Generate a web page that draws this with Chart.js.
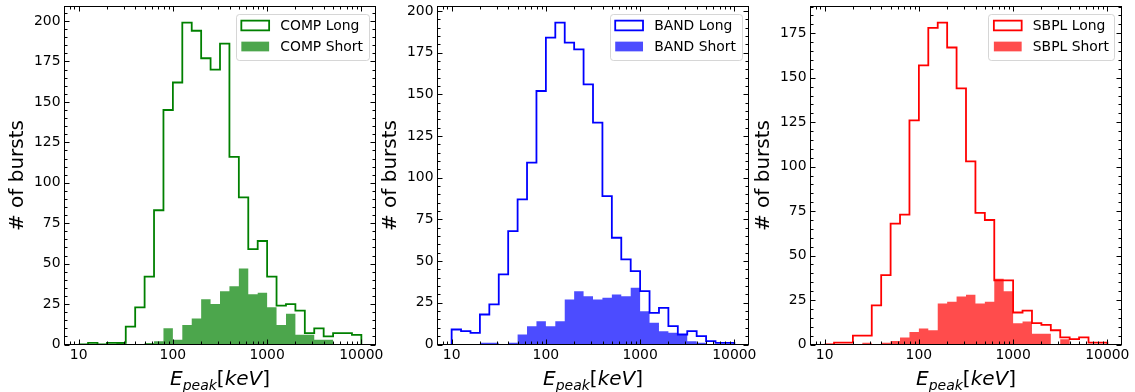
<!DOCTYPE html>
<html lang="en">
<head>
  <meta charset="UTF-8" />
  <title>Epeak distributions</title>
  <script src="https://cdn.jsdelivr.net/npm/chart.js"></script>
  <style>
    body {
      margin: 0;
      background: #fff;
      width: 1135px;
      height: 392px;
      overflow: hidden;
      position: relative;
      font-family: "DejaVu Sans", sans-serif;
    }
    canvas { position: absolute; top: 0; }
    .xlab {
      position: absolute;
      top: 366px;
      font-size: 20px;
      line-height: 24px;
      white-space: nowrap;
      transform: translateX(-50%);
      color: #000;
    }
    .xlab sub {
      font-size: 14px;
      position: relative;
      top: 5px;
      vertical-align: baseline;
    }
  </style>
</head>
<body>
  <canvas id="c1" width="390" height="392" style="left:0px"></canvas>
  <canvas id="c2" width="390" height="392" style="left:373px"></canvas>
  <canvas id="c3" width="390" height="392" style="left:746px"></canvas>
  <div class="xlab" style="left:220px"><i>E</i><sub><i>peak</i></sub>[<i>keV</i>]</div>
  <div class="xlab" style="left:593px"><i>E</i><sub><i>peak</i></sub>[<i>keV</i>]</div>
  <div class="xlab" style="left:966px"><i>E</i><sub><i>peak</i></sub>[<i>keV</i>]</div>

  <script>
    // log-spaced bins, 10 per decade, 10 keV .. 10000 keV
    const binEdges = [
      10, 12.589, 15.849, 19.953, 25.119, 31.623, 39.811, 50.119, 63.096, 79.433,
      100, 125.89, 158.49, 199.53, 251.19, 316.23, 398.11, 501.19, 630.96, 794.33,
      1000, 1258.9, 1584.9, 1995.3, 2511.9, 3162.3, 3981.1, 5011.9, 6309.6, 7943.3,
      10000
    ];

    const compLong  = [0, 1, 0, 1, 1, 11, 23, 42, 83, 145, 162, 199, 194, 177, 170, 186, 116, 91, 59, 64, 42, 24, 25, 21, 7, 10, 5, 7, 7, 6];
    const compShort = [0, 0, 0, 0, 1, 0, 0, 1, 2, 10, 3, 12, 16, 28, 25, 33, 36, 47, 31, 32, 23, 12, 19, 6, 6, 3, 3, 0, 0, 0];

    const bandLong  = [9, 8, 7, 18, 24, 42, 68, 87, 109, 152, 184, 193, 181, 177, 156, 133, 89, 64, 51, 44, 32, 19, 22, 11, 6, 8, 5, 2, 1, 1];
    const bandShort = [0, 0, 0, 1, 1, 0, 1, 6, 11, 14, 11, 14, 27, 32, 29, 27, 28, 30, 29, 34, 20, 13, 8, 7, 6, 2, 1, 0, 0, 0];

    const sbplLong  = [0, 1, 1, 5, 5, 22, 39, 68, 73, 126, 157, 178, 181, 167, 144, 103, 74, 70, 36, 36, 18, 19, 12, 11, 8, 4, 3, 4, 1, 1];
    const sbplShort = [0, 0, 0, 0, 1, 0, 1, 2, 4, 7, 9, 8, 23, 24, 27, 28, 23, 24, 37, 30, 12, 13, 6, 6, 0, 3, 0, 0, 0, 0];

    const xTicks = [10, 100, 1000, 10000];
    const yTicks1 = [0, 25, 50, 75, 100, 125, 150, 175, 200];
    const yTicks2 = [0, 25, 50, 75, 100, 125, 150, 175, 200];
    const yTicks3 = [0, 25, 50, 75, 100, 125, 150, 175];

    const legend1 = ["COMP Long", "COMP Short"];
    const legend2 = ["BAND Long", "BAND Short"];
    const legend3 = ["SBPL Long", "SBPL Short"];

    const X_MIN = 7.0795;   // 10^0.85
    const X_MAX = 14125.4;  // 10^4.15
    const FS = 13.9;

    Chart.defaults.font.family = "'DejaVu Sans', sans-serif";
    Chart.defaults.color = "#000";

    function stepPoints(counts) {
      const pts = [{ x: binEdges[0], y: 0 }];
      counts.forEach((c, i) => pts.push({ x: binEdges[i], y: c }));
      pts.push({ x: binEdges[counts.length], y: 0 });
      return pts;
    }

    // keep the plot box exactly where we put it
    function noPad(s) {
      s.paddingTop = 0; s.paddingBottom = 0;
      s.paddingLeft = 0; s.paddingRight = 0;
    }

    // frame + inward ticks on all four sides
    const framePlugin = {
      id: "frame",
      afterDatasetsDraw(chart) {
        const { ctx, chartArea: a, scales } = chart;
        const x = scales.x, y = scales.y;
        ctx.save();
        ctx.strokeStyle = "#000";
        ctx.lineWidth = 1;
        ctx.beginPath();
        const tick = (px, len, vertical) => {
          if (vertical) {
            ctx.moveTo(px, a.bottom); ctx.lineTo(px, a.bottom - len);
            ctx.moveTo(px, a.top); ctx.lineTo(px, a.top + len);
          } else {
            ctx.moveTo(a.left, px); ctx.lineTo(a.left + len, px);
            ctx.moveTo(a.right, px); ctx.lineTo(a.right - len, px);
          }
        };
        for (let d = 1; d <= 10000; d *= 10) {
          for (let m = 1; m <= 9; m++) {
            const v = d * m;
            if (v < X_MIN || v > X_MAX) continue;
            const px = Math.round(x.getPixelForValue(v)) + 0.5;
            tick(px, m === 1 ? 5 : 3, true);
          }
        }
        for (let v = 0; v <= y.max; v += 5) {
          const py = Math.round(y.getPixelForValue(v)) + 0.5;
          tick(py, v % 25 === 0 ? 5 : 3, false);
        }
        ctx.stroke();
        ctx.strokeRect(a.left, a.top, a.right - a.left, a.bottom - a.top);
        ctx.restore();
      }
    };

    // matplotlib-like legend in the upper right corner
    const boxLegend = {
      id: "boxLegend",
      afterDraw(chart, args, opts) {
        const { ctx, chartArea: a } = chart;
        ctx.save();
        ctx.font = FS + "px 'DejaVu Sans'";
        const tw = Math.max(...opts.labels.map(t => ctx.measureText(t).width));
        const pad = 0.4 * FS, hl = 2 * FS, htp = 0.8 * FS;
        const w = pad + hl + htp + tw + pad;
        const h = 46;
        const x0 = a.right - 7 - w, y0 = a.top + 7;
        ctx.beginPath();
        ctx.roundRect(Math.round(x0) + 0.5, Math.round(y0) + 0.5, Math.round(w), h, 3);
        ctx.fillStyle = "rgba(255,255,255,0.8)";
        ctx.fill();
        ctx.strokeStyle = "rgba(204,204,204,0.8)";
        ctx.lineWidth = 1;
        ctx.stroke();

        const rows = [y0 + 12, y0 + 33];
        const hh = 0.7 * FS;
        // long: outline only
        ctx.strokeStyle = opts.line;
        ctx.lineWidth = 1.8;
        ctx.strokeRect(x0 + pad, rows[0] - hh / 2, hl, hh);
        // short: filled
        ctx.fillStyle = opts.fill;
        ctx.fillRect(x0 + pad, rows[1] - hh / 2, hl, hh);

        ctx.fillStyle = "#000";
        ctx.textBaseline = "middle";
        ctx.textAlign = "left";
        opts.labels.forEach((t, i) => ctx.fillText(t, x0 + pad + hl + htp, rows[i] + 0.5));
        ctx.restore();
      }
    };

    function makeChart(id, longCounts, shortCounts, line, fill, yMax, yTicks, labels) {
      return new Chart(document.getElementById(id), {
        type: "line",
        data: {
          datasets: [
            {
              label: labels[1],
              data: stepPoints(shortCounts),
              stepped: true,
              fill: "origin",
              backgroundColor: fill,
              borderColor: "rgba(0,0,0,0)",
              borderWidth: 1,
              pointRadius: 0,
              order: 0
            },
            {
              label: labels[0],
              data: stepPoints(longCounts),
              stepped: true,
              fill: false,
              borderColor: line,
              borderWidth: 1.8,
              pointRadius: 0,
              order: 1
            }
          ]
        },
        options: {
          responsive: false,
          animation: false,
          events: [],
          layout: { padding: { top: 6.5, right: 14.5, left: 0, bottom: 0 } },
          plugins: {
            legend: { display: false },
            tooltip: { enabled: false },
            boxLegend: { labels, line, fill }
          },
          scales: {
            x: {
              type: "logarithmic",
              min: X_MIN,
              max: X_MAX,
              grid: { display: false, drawTicks: false },
              border: { display: false },
              ticks: {
                font: { size: FS },
                color: "#000",
                padding: 3,
                maxRotation: 0,
                autoSkip: false,
                callback: v => String(v)
              },
              afterBuildTicks: s => { s.ticks = xTicks.map(v => ({ value: v })); },
              afterFit: s => { s.height = 47.5; noPad(s); }
            },
            y: {
              min: 0,
              max: yMax,
              grid: { display: false, drawTicks: false },
              border: { display: false },
              ticks: { font: { size: FS }, color: "#000", padding: 4 },
              afterBuildTicks: s => { s.ticks = yTicks.map(v => ({ value: v })); },
              afterFit: s => { s.width = 64.5; noPad(s); },
              title: {
                display: true,
                text: "# of bursts",
                font: { size: 20 },
                color: "#000",
                padding: { top: 5.5, bottom: 0 }
              }
            }
          }
        },
        plugins: [framePlugin, boxLegend]
      });
    }

    makeChart("c1", compLong, compShort, "#008000", "rgba(0,128,0,0.7)", 209, yTicks1, legend1);
    makeChart("c2", bandLong, bandShort, "#0000ff", "rgba(0,0,255,0.7)", 202.65, yTicks2, legend2);
    makeChart("c3", sbplLong, sbplShort, "#ff0000", "rgba(255,0,0,0.7)", 190.05, yTicks3, legend3);
  </script>
</body>
</html>
